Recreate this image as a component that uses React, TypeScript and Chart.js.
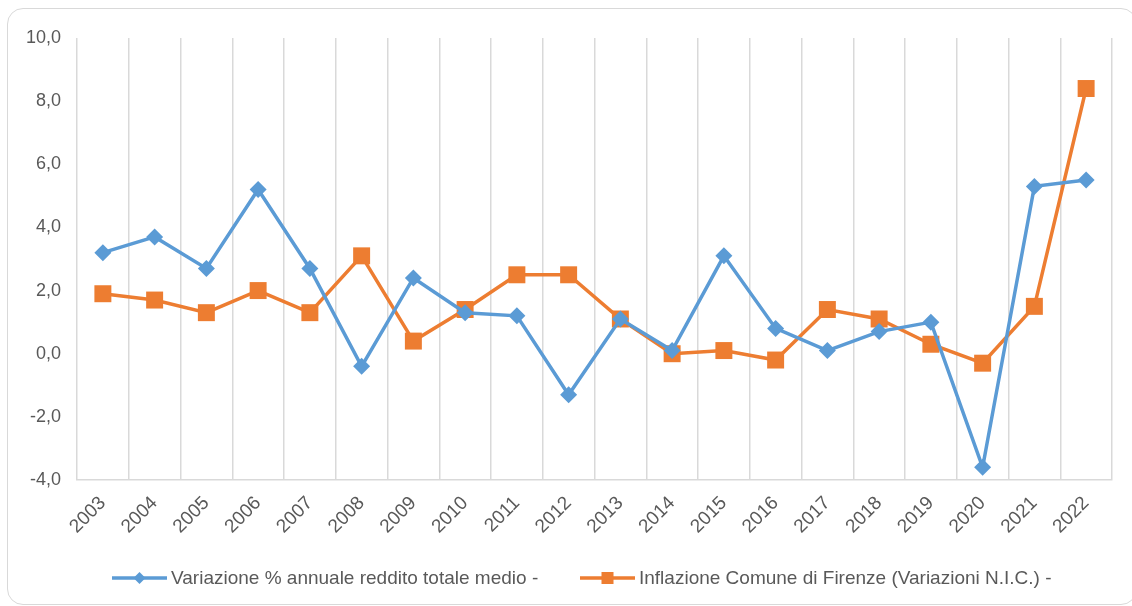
import React, { useEffect, useRef } from "react";
import { Chart, registerables } from "chart.js";

Chart.register(...registerables);

const years = ["2003","2004","2005","2006","2007","2008","2009","2010","2011","2012","2013","2014","2015","2016","2017","2018","2019","2020","2021","2022"];
const redditoVar = [3.2, 3.7, 2.7, 5.2, 2.7, -0.4, 2.4, 1.3, 1.2, -1.3, 1.1, 0.1, 3.1, 0.8, 0.1, 0.7, 1.0, -3.6, 5.3, 5.5];
const inflazione = [1.9, 1.7, 1.3, 2.0, 1.3, 3.1, 0.4, 1.4, 2.5, 2.5, 1.1, 0.0, 0.1, -0.2, 1.4, 1.1, 0.3, -0.3, 1.5, 8.4];
const seriesNames = [
  "Variazione % annuale reddito totale medio -",
  "Inflazione Comune di Firenze (Variazioni N.I.C.) -",
];

const BLUE = "#5B9BD5";
const ORANGE = "#ED7D31";
const TEXT = "#595959";
const GRID = "#d9d9d9";
const FONT = "'Liberation Sans', Arial, sans-serif";

const legendPlugin = {
  id: "customLegend",
  afterDraw(chart: any) {
    const ctx = chart.ctx;
    const y = 578;
    const items = [
      { x: 112, color: BLUE, style: "diamond", label: seriesNames[0] },
      { x: 580, color: ORANGE, style: "square", label: seriesNames[1] },
    ];
    ctx.save();
    items.forEach((it) => {
      ctx.strokeStyle = it.color;
      ctx.lineWidth = 3.5;
      ctx.lineCap = "butt";
      ctx.beginPath();
      ctx.moveTo(it.x, y);
      ctx.lineTo(it.x + 55, y);
      ctx.stroke();
      ctx.fillStyle = it.color;
      const cx = it.x + 27.5;
      if (it.style === "diamond") {
        ctx.beginPath();
        ctx.moveTo(cx, y - 6);
        ctx.lineTo(cx + 6, y);
        ctx.lineTo(cx, y + 6);
        ctx.lineTo(cx - 6, y);
        ctx.closePath();
        ctx.fill();
      } else {
        ctx.fillRect(cx - 6, y - 6, 12, 12);
      }
      ctx.fillStyle = TEXT;
      ctx.font = `19px ${FONT}`;
      ctx.textBaseline = "middle";
      ctx.textAlign = "left";
      ctx.fillText(it.label, it.x + 59, y + 1);
    });
    ctx.restore();
  },
};

export default function App() {
  const ref = useRef<HTMLCanvasElement>(null);
  useEffect(() => {
    if (!ref.current) return;
    const chart = new Chart(ref.current, {
      type: "line",
      data: {
        labels: years,
        datasets: [
          {
            label: seriesNames[0],
            data: redditoVar,
            borderColor: BLUE,
            backgroundColor: BLUE,
            borderWidth: 3.5,
            pointStyle: "rectRot",
            pointRadius: 8.5,
            pointBorderWidth: 0,
            tension: 0,
          },
          {
            label: seriesNames[1],
            data: inflazione,
            borderColor: ORANGE,
            backgroundColor: ORANGE,
            borderWidth: 3.5,
            pointStyle: "rect",
            pointRadius: 12,
            pointBorderWidth: 0,
            tension: 0,
          },
        ],
      },
      options: {
        animation: false,
        responsive: false,
        maintainAspectRatio: false,
        layout: { padding: { left: 0, right: 20, top: 38, bottom: 66 } },
        plugins: {
          legend: { display: false },
          tooltip: { enabled: false },
        },
        scales: {
          x: {
            offset: true,
            grid: { display: true, offset: true, color: GRID, lineWidth: 1.5, drawTicks: false },
            border: { display: true, color: GRID, width: 1.5 },
            ticks: {
              color: TEXT,
              font: { family: FONT, size: 19 },
              minRotation: 45,
              maxRotation: 45,
              padding: 12,
              autoSkip: false,
            },
            afterFit: (s: any) => { s.height = 60; },
          },
          y: {
            min: -4,
            max: 10,
            grid: { display: false, drawTicks: false },
            border: { display: false },
            ticks: {
              stepSize: 2,
              color: TEXT,
              font: { family: FONT, size: 18 },
              padding: 16,
              callback: (v: any) => Number(v).toFixed(1).replace(".", ","),
            },
            afterFit: (s: any) => { s.width = 77; },
          },
        },
      },
      plugins: [legendPlugin],
    });
    return () => chart.destroy();
  }, []);
  return (
    <div style={{ position: "fixed", left: 0, top: 0, width: 1132, height: 606, background: "#fff", overflow: "hidden" }}>
      <div style={{ position: "absolute", left: 7, top: 8, width: 1130, height: 597, border: `1.5px solid ${GRID}`, borderRadius: 16, boxSizing: "border-box" }} />
      <canvas ref={ref} width={1132} height={606} style={{ position: "absolute", left: 0, top: 0 }} />
    </div>
  );
}
